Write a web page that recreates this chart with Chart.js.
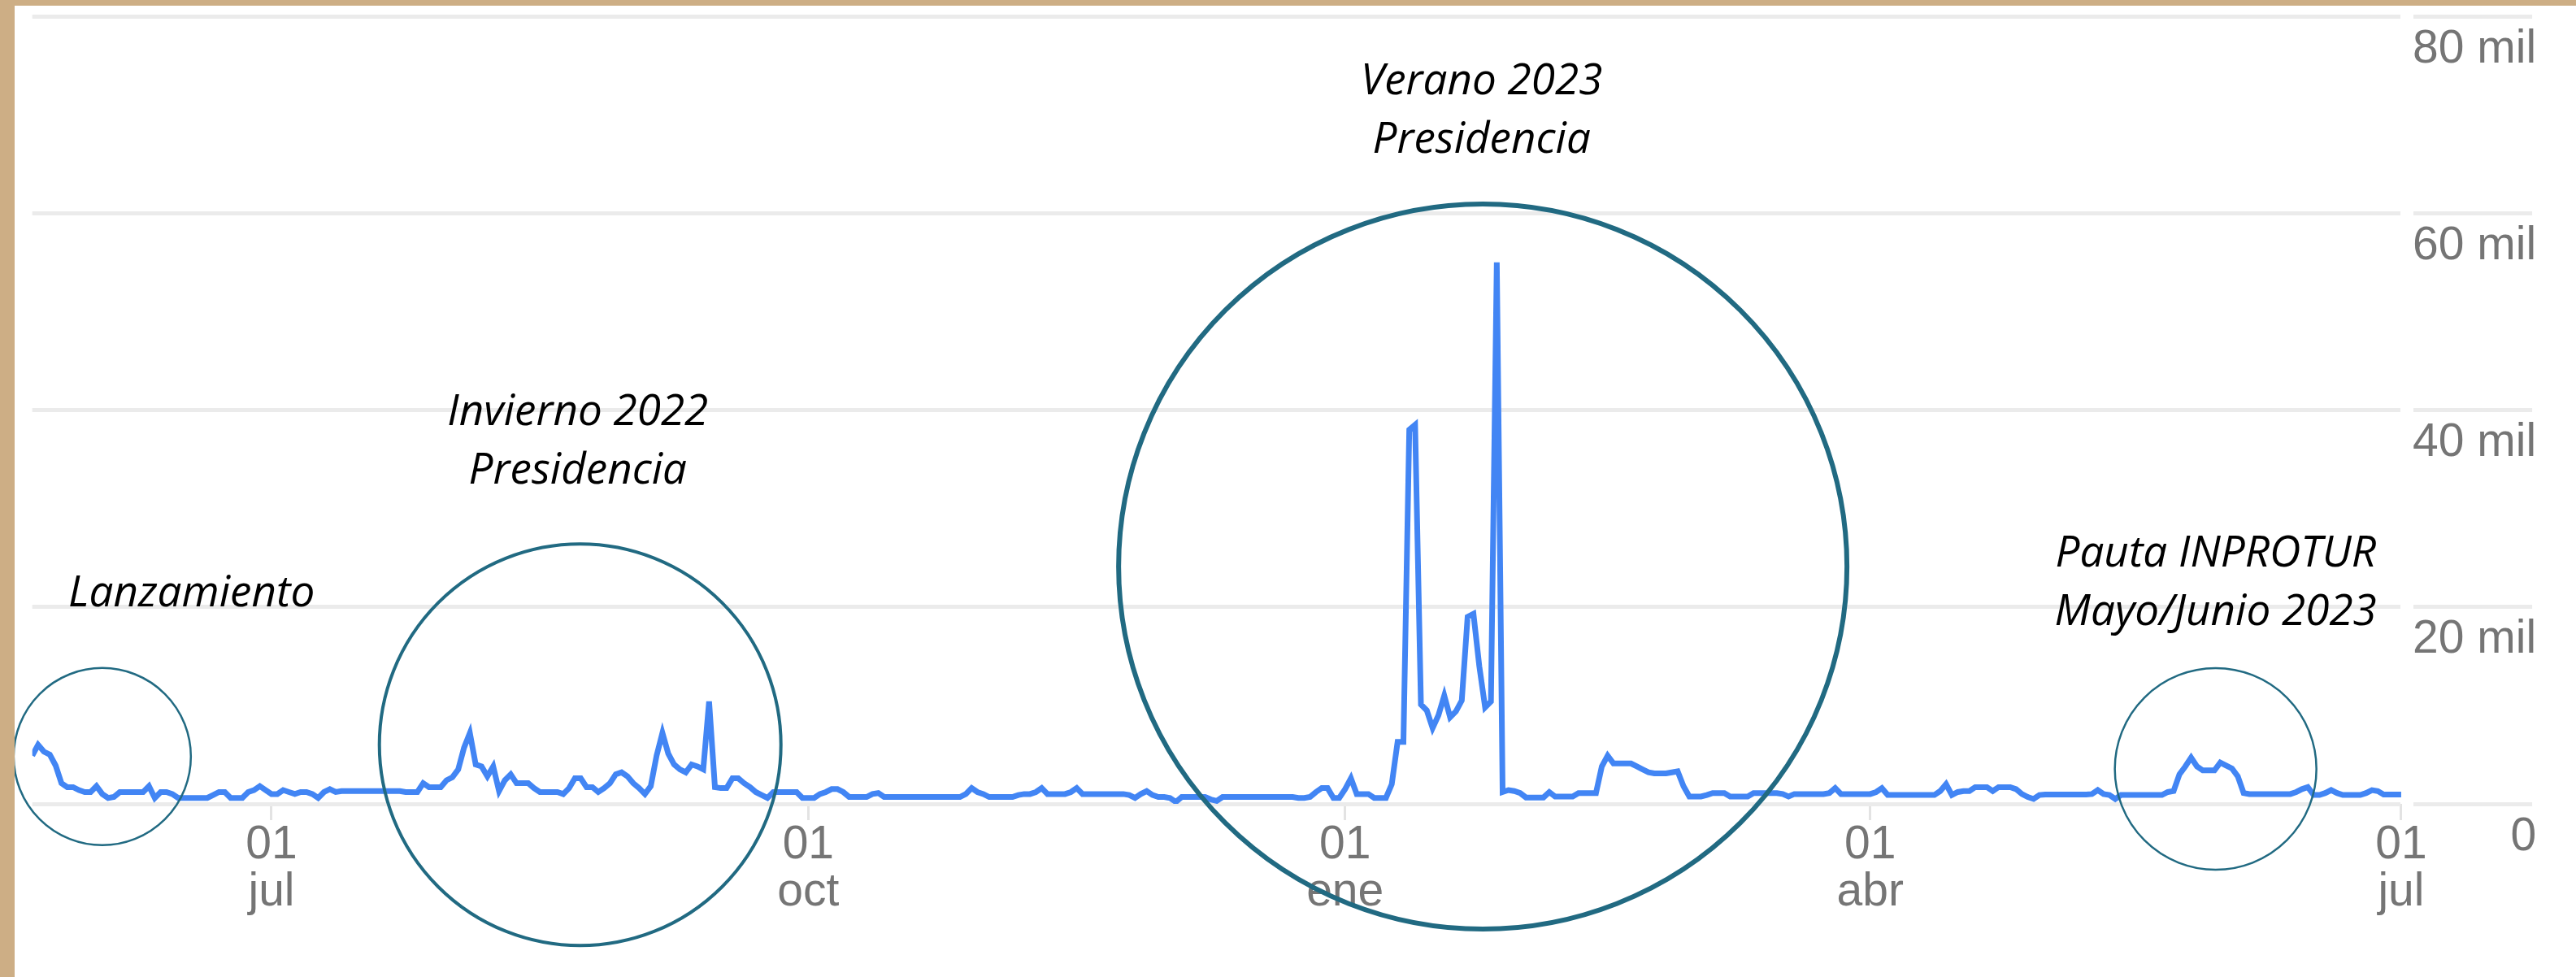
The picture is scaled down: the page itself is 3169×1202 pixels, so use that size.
<!DOCTYPE html>
<html lang="es">
<head>
<meta charset="utf-8">
<title>Visitas diarias</title>
<script src="https://cdn.jsdelivr.net/npm/chart.js@4.4.1/dist/chart.umd.min.js"></script>
<style>
  html, body { margin: 0; padding: 0; }
  body { width: 3169px; height: 1202px; background: #cdae85; overflow: hidden; position: relative; }
  .chart-wrap { position: absolute; left: 18px; top: 7px; width: 3151px; height: 1195px; background: #fff; }
</style>
</head>
<body>
<div class="chart-wrap"><canvas id="visitsChart" width="3151" height="1195"></canvas></div>
<script>
// daily visits, 21 may 2022 -> 1 jul 2023 (one array per month)
const may22 = [4900, 6000, 5300, 5000, 3900, 2100, 1700, 1700, 1400, 1200, 1200];
const jun22 = [1800, 1000, 600, 700, 1200, 1200, 1200, 1200, 1200, 1800, 600, 1200, 1200, 1000, 600,
               600, 600, 600, 600, 600, 900, 1200, 1200, 600, 600, 600, 1200, 1400, 1800, 1400];
const jul22 = [1000, 1000, 1400, 1200, 1000, 1200, 1200, 1000, 600, 1200, 1500, 1200, 1300, 1300, 1300, 1300,
               1300, 1300, 1300, 1300, 1300, 1300, 1300, 1200, 1200, 1200, 2100, 1700, 1700, 1700, 2400];
const aug22 = [2700, 3500, 5700, 7200, 4000, 3800, 2800, 3800, 1300, 2400, 3000, 2100, 2100, 2100, 1600, 1200,
               1200, 1200, 1200, 1000, 1600, 2600, 2600, 1700, 1700, 1200, 1600, 2100, 3000, 3200, 2800];
const sep22 = [2100, 1600, 1000, 1800, 4900, 7200, 5100, 4000, 3500, 3200, 4000, 3800, 3500, 10400, 1700,
               1600, 1600, 2600, 2600, 2100, 1700, 1200, 900, 600, 1200, 1200, 1200, 1200, 1200, 600];
const oct22 = [600, 600, 1000, 1200, 1500, 1500, 1200, 700, 700, 700, 700, 1000, 1100, 700, 700, 700,
               700, 700, 700, 700, 700, 700, 700, 700, 700, 700, 700, 1000, 1600, 1200, 1000];
const nov22 = [700, 700, 700, 700, 700, 900, 1000, 1000, 1200, 1600, 1000, 1000, 1000, 1000, 1200,
               1600, 1000, 1000, 1000, 1000, 1000, 1000, 1000, 1000, 900, 600, 1000, 1300, 900, 700];
const dec22 = [700, 600, 200, 700, 700, 700, 700, 700, 450, 300, 700, 700, 700, 700, 700, 700,
               700, 700, 700, 700, 700, 700, 700, 600, 600, 700, 1200, 1600, 1600, 600, 600];
const jan23 = [1500, 2600, 1000, 1000, 1000, 600, 600, 600, 2000, 6300, 6300, 38000, 38500, 10100, 9500, 7700,
               9000, 11000, 8800, 9400, 10500, 19000, 19300, 14000, 9800, 10400, 55000, 1200, 1400, 1300, 1100];
const feb23 = [650, 650, 650, 650, 1200, 750, 750, 750, 750, 1100, 1100, 1100, 1100, 3800,
               4900, 4100, 4100, 4100, 4100, 3800, 3500, 3200, 3100, 3100, 3100, 3200, 3300, 1800];
const mar23 = [750, 750, 750, 900, 1100, 1100, 1100, 750, 750, 750, 750, 1100, 1100, 1100, 1100, 1100,
               1000, 750, 1000, 1000, 1000, 1000, 1000, 1000, 1100, 1600, 1000, 1000, 1000, 1000, 1000];
const apr23 = [1000, 1200, 1600, 900, 900, 900, 900, 900, 900, 900, 900, 900, 1300, 2000, 900,
               1200, 1300, 1300, 1700, 1700, 1700, 1300, 1700, 1700, 1700, 1500, 1000, 700, 500, 900];
const may23 = [950, 950, 950, 950, 950, 950, 950, 950, 1000, 1400, 1000, 900, 500, 900, 900, 900,
               900, 900, 900, 900, 900, 1200, 1300, 3000, 3800, 4700, 3800, 3400, 3400, 3400, 4200];
const jun23 = [3900, 3600, 2800, 1100, 1000, 1000, 1000, 1000, 1000, 1000, 1000, 1000, 1200, 1500, 1700,
               900, 900, 1100, 1400, 1100, 900, 900, 900, 900, 1100, 1400, 1300, 950, 950, 950];
const jul23 = [950];

const visits = [].concat(may22, jun22, jul22, aug22, sep22, oct22, nov22, dec22,
                         jan23, feb23, mar23, apr23, may23, jun23, jul23);

// day index (0 = 21 may 2022) of each labelled tick
const xTickDays = [41, 133, 225, 315, 406];
const xTickLabels = [['01', 'jul'], ['01', 'oct'], ['01', 'ene'], ['01', 'abr'], ['01', 'jul']];
const yTickValues = [0, 20000, 40000, 60000, 80000];
const yTickLabels = ['0', '20 mil', '40 mil', '60 mil', '80 mil'];

// hand drawn notes: circle centre in data units, radius in px
const noteCircles = [
  { day: 12, value: 4800, rx: 109, ry: 109, width: 2.5 },
  { day: 93.9, value: 6000, rx: 247, ry: 247, width: 4 },
  { day: 248.6, value: 24100, rx: 448, ry: 446, width: 6 },
  { day: 374.2, value: 3550, rx: 124, ry: 124, width: 2.5 }
];
const noteTexts = [
  { day: 27.3, value: 20100, lines: ['Lanzamiento'] },
  { day: 93.5, value: 38500, lines: ['Invierno 2022', 'Presidencia'] },
  { day: 248.4, value: 72100, lines: ['Verano 2023', 'Presidencia'] },
  { day: 374.2, value: 24100, lines: ['Pauta INPROTUR', 'Mayo/Junio 2023'] }
];

const notesPlugin = {
  id: 'notes',
  afterDraw(chart) {
    const { ctx } = chart;
    const xs = chart.scales.x, ys = chart.scales.y;
    ctx.save();
    ctx.strokeStyle = '#216a82';
    noteCircles.forEach(c => {
      ctx.beginPath();
      ctx.lineWidth = c.width;
      ctx.ellipse(xs.getPixelForValue(c.day), ys.getPixelForValue(c.value), c.rx, c.ry, 0, 0, Math.PI * 2);
      ctx.stroke();
    });
    ctx.fillStyle = '#000';
    ctx.font = 'italic 53px "Open Sans"';
    ctx.textAlign = 'center';
    ctx.textBaseline = 'alphabetic';
    noteTexts.forEach(t => {
      const x = xs.getPixelForValue(t.day);
      const y = ys.getPixelForValue(t.value);
      t.lines.forEach((line, i) => ctx.fillText(line, x, y + i * 72));
    });
    ctx.restore();
  }
};

const labelFont = { family: '"Liberation Sans", Arial, sans-serif', size: 57, lineHeight: 1.02 };

const ctx = document.getElementById('visitsChart').getContext('2d');
new Chart(ctx, {
  type: 'line',
  data: {
    datasets: [{
      data: visits.map((v, i) => ({ x: i, y: v })),
      borderColor: '#4285f4',
      borderWidth: 7,
      pointRadius: 0,
      tension: 0,
      fill: false
    }]
  },
  options: {
    responsive: false,
    animation: false,
    devicePixelRatio: 1,
    layout: { padding: { left: 21.7, right: 37.9, top: 13, bottom: 73 } },
    plugins: { legend: { display: false }, tooltip: { enabled: false } },
    scales: {
      x: {
        type: 'linear',
        min: 0,
        max: 407,
        afterBuildTicks: s => { s.ticks = xTickDays.map(v => ({ value: v })); },
        afterFit: s => { s.height = 140; s.paddingLeft = 0; s.paddingRight = 0; },
        grid: { drawOnChartArea: false, drawTicks: true, tickLength: 20, color: '#e3e3e3', lineWidth: 3 },
        border: { display: false },
        ticks: {
          autoSkip: false,
          maxRotation: 0,
          padding: 2,
          color: '#757575',
          font: labelFont,
          callback: (v, i) => xTickLabels[i]
        }
      },
      y: {
        position: 'right',
        min: 0,
        max: 80000,
        afterBuildTicks: s => { s.ticks = yTickValues.map(v => ({ value: v })); },
        afterFit: s => { s.width = 170; s.paddingTop = 0; s.paddingBottom = 0; },
        grid: { color: '#ebebeb', lineWidth: 5, drawTicks: true, tickLength: 154 },
        border: { display: true, width: 16, color: 'rgba(0,0,0,0)' },
        ticks: {
          mirror: true,
          padding: 159,
          labelOffset: 41,
          color: '#757575',
          font: labelFont,
          callback: (v, i) => yTickLabels[i]
        }
      }
    }
  },
  plugins: [notesPlugin]
});
</script>
</body>
</html>
